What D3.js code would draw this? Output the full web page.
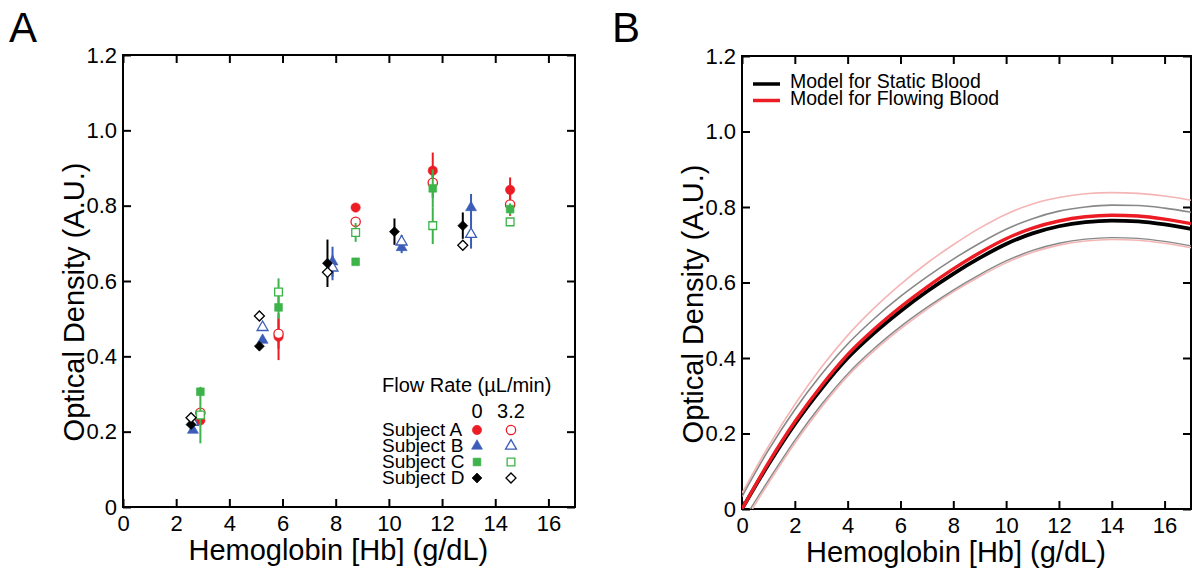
<!DOCTYPE html>
<html>
<head>
<meta charset="utf-8">
<script src="https://cdn.jsdelivr.net/npm/d3@7"></script>
<style>
  body { margin: 0; background: #fff; }
  svg { display: block; font-family: "Liberation Sans", Arial, sans-serif; }
</style>
</head>
<body>
<div id="chart"></div>
<script>
// Panel A: measured points per subject, [Hb (g/dL), OD, error]
// "static" = flow rate 0, "flow" = 3.2 uL/min
var subjA_static = [[2.91, 0.230, 0.010], [5.85, 0.452, 0.062], [8.75, 0.795, 0], [11.65, 0.893, 0.048], [14.56, 0.842, 0.033]];
var subjA_flow   = [[2.91, 0.250, 0.010], [5.85, 0.460, 0.040], [8.75, 0.757, 0], [11.65, 0.861, 0.040], [14.56, 0.803, 0.030]];
var subjB_static = [[2.63, 0.204, 0], [5.25, 0.443, 0], [7.88, 0.651, 0.040], [10.48, 0.689, 0.015], [13.09, 0.795, 0.036]];
var subjB_flow   = [[2.63, 0.225, 0], [5.25, 0.477, 0], [7.88, 0.635, 0.033], [10.48, 0.704, 0.018], [13.09, 0.724, 0.038]];
var subjC_static = [[2.91, 0.306, 0.008], [5.85, 0.530, 0.030], [8.75, 0.651, 0], [11.65, 0.846, 0.050], [14.56, 0.791, 0.015]];
var subjC_flow   = [[2.91, 0.244, 0.075], [5.85, 0.571, 0.036], [8.75, 0.729, 0.025], [11.65, 0.747, 0.049], [14.56, 0.757, 0.008]];
var subjD_static = [[2.56, 0.219, 0.010], [5.13, 0.427, 0.008], [7.69, 0.647, 0.063], [10.21, 0.731, 0.035], [12.78, 0.747, 0.035]];
var subjD_flow   = [[2.56, 0.237, 0.008], [5.13, 0.507, 0.008], [7.69, 0.623, 0.010], [12.78, 0.695, 0.010]];

var subjectNames = ["Subject A", "Subject B", "Subject C", "Subject D"];
var flowRates = ["0", "3.2"];

// Panel B: model curves
var hbGrid       = [0, 1, 2, 3, 4, 5, 6, 7, 8, 9, 10, 11, 12, 13, 14, 15, 16, 17];
var odStatic     = [0, 0.118, 0.225, 0.318, 0.400, 0.466, 0.524, 0.576, 0.623, 0.665, 0.702, 0.730, 0.749, 0.760, 0.764, 0.762, 0.754, 0.742];
var odFlowing    = [0, 0.122, 0.231, 0.326, 0.409, 0.476, 0.535, 0.588, 0.636, 0.679, 0.716, 0.744, 0.763, 0.774, 0.778, 0.776, 0.768, 0.756];
var staticUpper  = [0.033, 0.156, 0.263, 0.356, 0.437, 0.504, 0.563, 0.615, 0.662, 0.704, 0.741, 0.769, 0.789, 0.800, 0.805, 0.804, 0.797, 0.786];
var staticLower  = [-0.035, 0.076, 0.182, 0.276, 0.358, 0.425, 0.483, 0.534, 0.580, 0.621, 0.657, 0.685, 0.704, 0.715, 0.719, 0.717, 0.709, 0.697];
var flowingUpper = [0.042, 0.166, 0.277, 0.375, 0.460, 0.532, 0.595, 0.651, 0.700, 0.744, 0.781, 0.808, 0.825, 0.835, 0.838, 0.836, 0.829, 0.818];
var flowingLower = [-0.045, 0.068, 0.174, 0.269, 0.352, 0.419, 0.477, 0.529, 0.575, 0.616, 0.652, 0.680, 0.699, 0.710, 0.714, 0.712, 0.704, 0.692];

var modelNames = ["Model for Static Blood", "Model for Flowing Blood"];

var xTicks = [0, 2, 4, 6, 8, 10, 12, 14, 16];
var yTicks = [0, 0.2, 0.4, 0.6, 0.8, 1.0, 1.2];

var FONT = "'Liberation Sans', Arial, sans-serif";
var red = "#ec1c24", blue = "#3b5cb8", green = "#3cb44a";

var svg = d3.select("#chart").append("svg")
    .attr("width", 1192)
    .attr("height", 568);

var boxA = {left: 123, top: 55, right: 575, bottom: 507};
var boxB = {left: 742, top: 56, right: 1191, bottom: 509};

function makeFrame(box, id) {
  var x = d3.scaleLinear().domain([0, 17]).range([box.left, box.right]);
  var y = d3.scaleLinear().domain([0, 1.2]).range([box.bottom, box.top]);
  var fmtY = function(d) { return d === 0 ? "0" : d3.format(".1f")(d); };
  var g = svg.append("g");

  g.append("g").attr("transform", "translate(0," + box.bottom + ")")
    .call(d3.axisBottom(x).tickValues(xTicks).tickSize(-8).tickPadding(8));
  g.append("g").attr("transform", "translate(0," + box.top + ")")
    .call(d3.axisTop(x).tickValues(xTicks).tickSize(-8).tickFormat(""));
  g.append("g").attr("transform", "translate(" + box.left + ",0)")
    .call(d3.axisLeft(y).tickValues(yTicks).tickSize(-8).tickPadding(6).tickFormat(fmtY));
  g.append("g").attr("transform", "translate(" + box.right + ",0)")
    .call(d3.axisRight(y).tickValues(yTicks).tickSize(-8).tickFormat(""));

  g.selectAll(".domain").remove();
  g.selectAll(".tick line").attr("stroke", "#000").attr("stroke-width", 2);
  g.selectAll(".tick text")
    .attr("fill", "#000")
    .style("font-family", FONT)
    .style("font-size", "22px");

  g.append("rect")
    .attr("x", box.left).attr("y", box.top)
    .attr("width", box.right - box.left).attr("height", box.bottom - box.top)
    .attr("fill", "none").attr("stroke", "#000").attr("stroke-width", 2);

  svg.append("clipPath").attr("id", id)
    .append("rect")
    .attr("x", box.left).attr("y", box.top)
    .attr("width", box.right - box.left).attr("height", box.bottom - box.top);

  // axis titles
  svg.append("text")
    .attr("transform", "translate(" + (box.left - 39) + "," + (box.bottom - 205) + ") rotate(-90)")
    .attr("text-anchor", "middle")
    .style("font-family", FONT).style("font-size", "29px")
    .text("Optical Density (A.U.)");
  svg.append("text")
    .attr("x", x(8.1)).attr("y", box.bottom + 53)
    .attr("text-anchor", "middle")
    .style("font-family", FONT).style("font-size", "29px")
    .text("Hemoglobin [Hb] (g/dL)");

  return {x: x, y: y};
}

// ---------- Panel A ----------
var A = makeFrame(boxA, "clipA");

var series = [
  {data: subjA_static, color: red,   shape: "circle",   open: false},
  {data: subjA_flow,   color: red,   shape: "circle",   open: true},
  {data: subjB_static, color: blue,  shape: "triangle", open: false},
  {data: subjB_flow,   color: blue,  shape: "triangle", open: true},
  {data: subjC_static, color: green, shape: "square",   open: false},
  {data: subjC_flow,   color: green, shape: "square",   open: true},
  {data: subjD_static, color: "#000", shape: "diamond", open: false},
  {data: subjD_flow,   color: "#000", shape: "diamond", open: true}
];

var symbolOf = {
  circle:   d3.symbol().type(d3.symbolCircle).size(68),
  triangle: d3.symbol().type(d3.symbolTriangle).size(52),
  square:   d3.symbol().type(d3.symbolSquare).size(60),
  diamond:  d3.symbol().type(d3.symbolSquare).size(50)
};

function drawMarker(sel, s) {
  sel.attr("d", symbolOf[s.shape]())
    .attr("fill", s.open ? "#fff" : s.color)
    .attr("stroke", s.color)
    .attr("stroke-width", s.open ? 1.3 : 0.6);
}

var plotA = svg.append("g");
series.forEach(function(s) {
  var g = plotA.append("g");
  g.selectAll("line")
    .data(s.data.filter(function(d) { return d[2] > 0; }))
    .enter().append("line")
      .attr("x1", function(d) { return A.x(d[0]); })
      .attr("x2", function(d) { return A.x(d[0]); })
      .attr("y1", function(d) { return A.y(d[1] - d[2]); })
      .attr("y2", function(d) { return A.y(d[1] + d[2]); })
      .attr("stroke", s.color)
      .attr("stroke-width", 2);
  g.selectAll("path")
    .data(s.data)
    .enter().append("path")
      .attr("transform", function(d) {
        return "translate(" + A.x(d[0]) + "," + A.y(d[1]) + ")" + (s.shape === "diamond" ? " rotate(45)" : "");
      })
      .call(drawMarker, s);
});

// legend A (subject names stacked as one text block)
var legA = svg.append("g").style("font-family", FONT).style("font-size", "19px");
legA.append("text").attr("x", 382).attr("y", 392).style("font-size", "20px").text("Flow Rate (\u00b5L/min)");
var colX = [477, 511];
flowRates.forEach(function(f, i) {
  legA.append("text").attr("x", colX[i]).attr("y", 418).attr("text-anchor", "middle").style("font-size", "20px").text(f);
});
var rowY = 16;
legA.append("text").attr("y", 436)
  .selectAll("tspan")
  .data(subjectNames)
  .enter().append("tspan")
    .attr("x", 382)
    .attr("dy", function(d, i) { return i === 0 ? 0 : rowY; })
    .text(function(d) { return d; });
subjectNames.forEach(function(name, i) {
  [0, 1].forEach(function(j) {
    var s = series[i * 2 + j];
    legA.append("path")
      .attr("transform", "translate(" + colX[j] + "," + (436 + i * rowY - 6) + ")" + (s.shape === "diamond" ? " rotate(45)" : ""))
      .call(drawMarker, s);
  });
});

// ---------- Panel B ----------
var B = makeFrame(boxB, "clipB");

var line = d3.line()
  .x(function(d) { return B.x(d[0]); })
  .y(function(d) { return B.y(d[1]); })
  .curve(d3.curveMonotoneX);

function pairs(vals) { return hbGrid.map(function(h, i) { return [h, vals[i]]; }); }

var curves = [
  {vals: flowingUpper, color: "#f5b5b5", width: 1.6},
  {vals: flowingLower, color: "#f5b5b5", width: 1.6},
  {vals: staticUpper,  color: "#888",    width: 1.6},
  {vals: staticLower,  color: "#888",    width: 1.4},
  {vals: odStatic,     color: "#000",    width: 3.8},
  {vals: odFlowing,    color: red,       width: 3.4}
];

var plotB = svg.append("g").attr("clip-path", "url(#clipB)");
plotB.selectAll("path")
  .data(curves)
  .enter().append("path")
    .attr("d", function(c) { return line(pairs(c.vals)); })
    .attr("fill", "none")
    .attr("stroke", function(c) { return c.color; })
    .attr("stroke-width", function(c) { return c.width; });

// legend B
var legB = svg.append("g").style("font-family", FONT).style("font-size", "19.5px");
var legColors = ["#000", red];
legB.append("text").attr("y", 88)
  .selectAll("tspan")
  .data(modelNames)
  .enter().append("tspan")
    .attr("x", 790)
    .attr("dy", function(d, i) { return i === 0 ? 0 : 16.5; })
    .text(function(d) { return d; });
legColors.forEach(function(c, i) {
  legB.append("line")
    .attr("x1", 753).attr("x2", 780)
    .attr("y1", 84 + i * 16.5).attr("y2", 84 + i * 16.5)
    .attr("stroke", c).attr("stroke-width", 3.5);
});

// panel letters
svg.append("text").attr("x", 9).attr("y", 42)
  .style("font-family", FONT).style("font-size", "42px").text("A");
svg.append("text").attr("x", 612).attr("y", 42)
  .style("font-family", FONT).style("font-size", "42px").text("B");
</script>
</body>
</html>
